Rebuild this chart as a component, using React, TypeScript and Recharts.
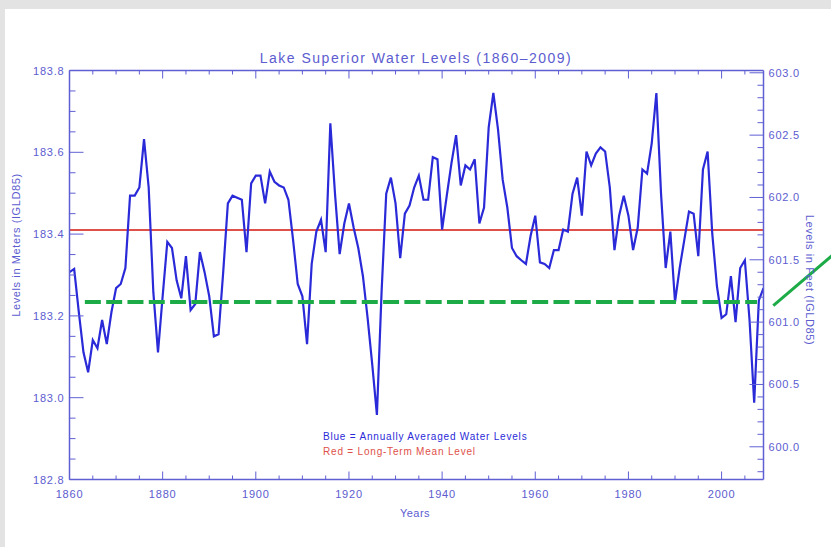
import React from 'react';
import { LineChart, Line, XAxis, YAxis, ReferenceLine } from 'recharts';

// ---- data ----
const FIRST_YEAR = 1860;
const LEVELS: number[] = [
  183.307, 183.315, 183.209, 183.111, 183.062, 183.141, 183.121, 183.19, 183.131, 183.209, // 1860-1869
  183.268, 183.278, 183.317, 183.494, 183.494, 183.514, 183.632, 183.514, 183.258, 183.111, // 1870-1879
  183.248, 183.381, 183.366, 183.287, 183.243, 183.346, 183.214, 183.229, 183.356, 183.307, // 1880-1889
  183.248, 183.15, 183.155, 183.307, 183.475, 183.494, 183.489, 183.484, 183.356, 183.524, // 1890-1899
  183.543, 183.543, 183.475, 183.553, 183.528, 183.519, 183.514, 183.484, 183.386, 183.278, // 1900-1909
  183.248, 183.131, 183.327, 183.406, 183.435, 183.356, 183.671, 183.499, 183.351, 183.426, // 1910-1919
  183.475, 183.416, 183.366, 183.297, 183.195, 183.081, 182.958, 183.258, 183.499, 183.538, // 1920-1929
  183.475, 183.341, 183.45, 183.47, 183.514, 183.543, 183.484, 183.484, 183.588, 183.583, // 1930-1939
  183.411, 183.494, 183.573, 183.642, 183.519, 183.568, 183.558, 183.583, 183.426, 183.465, // 1940-1949
  183.661, 183.745, 183.656, 183.533, 183.465, 183.366, 183.346, 183.336, 183.327, 183.396, // 1950-1959
  183.445, 183.331, 183.327, 183.317, 183.361, 183.361, 183.411, 183.406, 183.499, 183.538, // 1960-1969
  183.445, 183.602, 183.568, 183.597, 183.612, 183.602, 183.514, 183.361, 183.445, 183.494, // 1970-1979
  183.445, 183.361, 183.416, 183.558, 183.548, 183.622, 183.745, 183.499, 183.317, 183.406, // 1980-1989
  183.234, 183.317, 183.386, 183.455, 183.45, 183.346, 183.558, 183.602, 183.401, 183.273, // 1990-1999
  183.195, 183.204, 183.297, 183.185, 183.317, 183.336, 183.19, 182.988, 183.238, 183.268, // 2000-2009
];
const MEAN_LEVEL = 183.41;
const HIGHLIGHT_LEVEL = 183.234;
const HIGHLIGHT_SPAN = [1863.3, 2007.6];
const ARROW = [
  { x: 2011.1, y: 183.225 },
  { x: 2024.0, y: 183.35 },
];

const YEAR_DOMAIN = [1860, 2009];
const YEAR_TICKS = [
  1860, 1865, 1870, 1875, 1880, 1885, 1890, 1895, 1900, 1905, 1910, 1915, 1920, 1925, 1930,
  1935, 1940, 1945, 1950, 1955, 1960, 1965, 1970, 1975, 1980, 1985, 1990, 1995, 2000, 2005,
];
const YEAR_LABELS = [1860, 1880, 1900, 1920, 1940, 1960, 1980, 2000];

const METER_DOMAIN = [182.8, 183.8];
const METER_TICKS = [
  182.8, 182.85, 182.9, 182.95, 183.0, 183.05, 183.1, 183.15, 183.2, 183.25, 183.3,
  183.35, 183.4, 183.45, 183.5, 183.55, 183.6, 183.65, 183.7, 183.75, 183.8,
];
const METER_LABELS = [182.8, 183.0, 183.2, 183.4, 183.6, 183.8];

const FEET_DOMAIN = [599.7376, 603.0184];
const FEET_TICKS = [
  599.8, 599.9, 600.0, 600.1, 600.2, 600.3, 600.4, 600.5, 600.6, 600.7, 600.8, 600.9,
  601.0, 601.1, 601.2, 601.3, 601.4, 601.5, 601.6, 601.7, 601.8, 601.9, 602.0, 602.1,
  602.2, 602.3, 602.4, 602.5, 602.6, 602.7, 602.8, 602.9, 603.0,
];
const FEET_LABELS = [600.0, 600.5, 601.0, 601.5, 602.0, 602.5, 603.0];

const TITLE = 'Lake Superior Water Levels (1860\u20132009)';
const X_TITLE = 'Years';
const Y_LEFT_TITLE = 'Levels in Meters (IGLD85)';
const Y_RIGHT_TITLE = 'Levels in Feet (IGLD85)';
const LEGEND_BLUE = 'Blue = Annually Averaged Water Levels';
const LEGEND_RED = 'Red = Long-Term Mean Level';

const data = LEVELS.map((v, i) => ({ year: FIRST_YEAR + i, level: v }));

// ---- style ----
const FONT = '"Liberation Sans", Arial, sans-serif';
const AXIS = '#5f5fd4';
const TEXT = '#5c5cd0';
const BLUE = '#2a2ad8';
const RED = '#e0504a';
const GREEN = '#1cab46';

const isIn = (arr: number[], v: number) => arr.some((a) => Math.abs(a - v) < 1e-6);

const BottomTick = (p: any) => {
  const { x, y, payload } = p;
  const major = isIn(YEAR_LABELS, payload.value);
  return (
    <g>
      <line x1={x} x2={x} y1={y} y2={y - (major ? 8 : 4)} stroke={AXIS} strokeWidth={1} />
      {major && (
        <text x={x} y={y + 18.5} textAnchor="middle" fontSize={11} letterSpacing={0.8} fill={TEXT} fontFamily={FONT}>
          {payload.value}
        </text>
      )}
    </g>
  );
};

const TopTick = (p: any) => {
  const { x, y, payload } = p;
  const major = isIn(YEAR_LABELS, payload.value);
  return <line x1={x} x2={x} y1={y} y2={y + (major ? 8 : 4)} stroke={AXIS} strokeWidth={1} />;
};

const LeftTick = (p: any) => {
  const { x, y, payload } = p;
  const major = isIn(METER_LABELS, payload.value);
  return (
    <g>
      <line x1={x} x2={x + (major ? 14 : 6)} y1={y} y2={y} stroke={AXIS} strokeWidth={1} />
      {major && (
        <text x={x - 5} y={y + 4} textAnchor="end" fontSize={11} letterSpacing={0.8} fill={TEXT} fontFamily={FONT}>
          {payload.value.toFixed(1)}
        </text>
      )}
    </g>
  );
};

const RightTick = (p: any) => {
  const { x, y, payload } = p;
  const major = isIn(FEET_LABELS, payload.value);
  return (
    <g>
      <line x1={x} x2={x - (major ? 14 : 6)} y1={y} y2={y} stroke={AXIS} strokeWidth={1} />
      {major && (
        <text x={x + 5} y={y + 4} textAnchor="start" fontSize={11} letterSpacing={0.8} fill={TEXT} fontFamily={FONT}>
          {payload.value.toFixed(1)}
        </text>
      )}
    </g>
  );
};

export default function App() {
  return (
    <div style={{ position: 'absolute', left: 0, top: 0, width: 831, height: 547, background: '#e3e3e3', overflow: 'hidden' }}>
      <div style={{ position: 'absolute', left: 5, top: 9, width: 826, height: 538, background: '#ffffff' }} />
      <div style={{ position: 'absolute', left: 0, top: 0 }}>
        <LineChart width={831} height={547} data={data} margin={{ top: 60.5, right: 7.5, bottom: 27.5, left: 9.5 }}>
          <XAxis
            xAxisId="bottom"
            dataKey="year"
            type="number"
            domain={YEAR_DOMAIN}
            ticks={YEAR_TICKS}
            interval={0}
            allowDataOverflow
            height={40}
            tickSize={0}
            tickMargin={0}
            tickLine={false}
            axisLine={{ stroke: AXIS, strokeWidth: 1.5 }}
            tick={<BottomTick />}
          />
          <XAxis
            xAxisId="top"
            orientation="top"
            dataKey="year"
            type="number"
            domain={YEAR_DOMAIN}
            ticks={YEAR_TICKS}
            interval={0}
            allowDataOverflow
            height={10}
            tickSize={0}
            tickMargin={0}
            tickLine={false}
            axisLine={{ stroke: AXIS, strokeWidth: 1.5 }}
            tick={<TopTick />}
          />
          <YAxis
            yAxisId="m"
            type="number"
            domain={METER_DOMAIN}
            ticks={METER_TICKS}
            interval={0}
            allowDataOverflow
            width={60}
            tickSize={0}
            tickMargin={0}
            tickLine={false}
            axisLine={{ stroke: AXIS, strokeWidth: 1.5 }}
            tick={<LeftTick />}
          />
          <YAxis
            yAxisId="ft"
            orientation="right"
            type="number"
            domain={FEET_DOMAIN}
            ticks={FEET_TICKS}
            interval={0}
            allowDataOverflow
            width={60}
            tickSize={0}
            tickMargin={0}
            tickLine={false}
            axisLine={{ stroke: AXIS, strokeWidth: 1.5 }}
            tick={<RightTick />}
          />
          <ReferenceLine xAxisId="bottom" yAxisId="m" y={MEAN_LEVEL} stroke={RED} strokeWidth={2} />
          <Line
            xAxisId="bottom"
            yAxisId="m"
            type="linear"
            dataKey="level"
            stroke={BLUE}
            strokeWidth={2.2}
            dot={false}
            isAnimationActive={false}
          />
          <ReferenceLine
            xAxisId="bottom"
            yAxisId="m"
            segment={[
              { x: HIGHLIGHT_SPAN[0], y: HIGHLIGHT_LEVEL },
              { x: HIGHLIGHT_SPAN[1], y: HIGHLIGHT_LEVEL },
            ]}
            stroke={GREEN}
            strokeWidth={4}
            strokeDasharray="16 5.3"
          />
          <ReferenceLine
            xAxisId="bottom"
            yAxisId="m"
            segment={ARROW}
            ifOverflow="visible"
            stroke={GREEN}
            strokeWidth={3}
          />
        </LineChart>
      </div>
      <svg width={831} height={547} style={{ position: 'absolute', left: 0, top: 0, pointerEvents: 'none' }}>
        <text x={416} y={63} textAnchor="middle" fontSize={14} letterSpacing={1.5} fill={TEXT} fontFamily={FONT}>
          {TITLE}
        </text>
        <text x={415} y={517} textAnchor="middle" fontSize={11} letterSpacing={0.5} fill={TEXT} fontFamily={FONT}>
          {X_TITLE}
        </text>
        <text
          transform="translate(20,245) rotate(-90)"
          textAnchor="middle"
          fontSize={11}
          letterSpacing={0.6}
          fill={TEXT}
          fontFamily={FONT}
        >
          {Y_LEFT_TITLE}
        </text>
        <text
          transform="translate(806,280) rotate(90)"
          textAnchor="middle"
          fontSize={11}
          letterSpacing={0.6}
          fill={TEXT}
          fontFamily={FONT}
        >
          {Y_RIGHT_TITLE}
        </text>
        <text x={323} y={440} fontSize={10} letterSpacing={0.8} fill={BLUE} fontFamily={FONT}>
          {LEGEND_BLUE}
        </text>
        <text x={323} y={455} fontSize={10} letterSpacing={0.8} fill={RED} fontFamily={FONT}>
          {LEGEND_RED}
        </text>
      </svg>
    </div>
  );
}
